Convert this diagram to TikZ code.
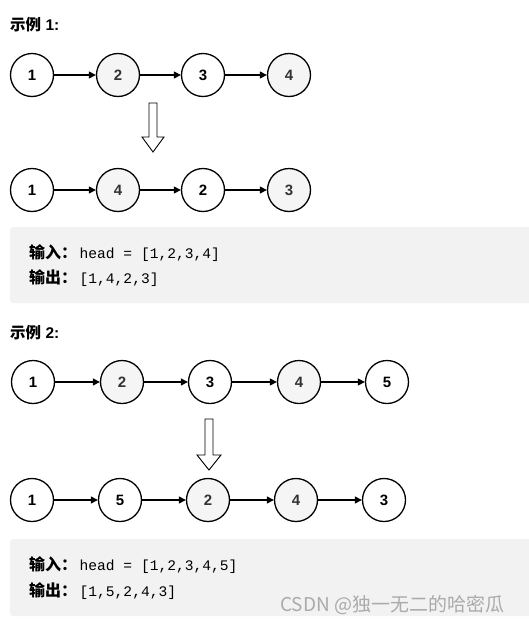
\documentclass[tikz,border=0pt]{standalone}
\usepackage{fontspec}
\setmainfont{Liberation Sans}
\setmonofont{Liberation Mono}
\newfontfamily\cjk{Noto Sans CJK SC}
\usetikzlibrary{arrows.meta}
\definecolor{nodegray}{HTML}{F5F5F5}
\definecolor{boxgray}{HTML}{F2F2F2}
\definecolor{txtgray}{HTML}{333333}
\definecolor{wmgray}{HTML}{AAAAAA}
\tikzset{
  lnode/.style={circle,draw=black,line width=1.3pt,fill=white,minimum size=43pt,inner sep=0pt,
    font=\fontsize{15}{17}\selectfont\bfseries,text=black},
  gnode/.style={lnode,fill=nodegray,text=txtgray},
  link/.style={line width=1.2pt,-{Triangle[length=7pt,width=7pt]}},
  title/.style={anchor=west,inner sep=0pt,font=\fontsize{15.5}{17}\selectfont\bfseries},
  codeline/.style={anchor=west,inner sep=0pt,font=\fontsize{14.6}{17}\selectfont,text=black},
  codebox/.style={fill=boxgray,draw=none,rounded corners=3pt},
  downarrow/.style={draw=black,fill=white,line width=0.9pt,line join=miter}
}
\newcommand{\cjklab}[1]{{\cjk\bfseries\fontsize{16}{17}\selectfont #1}\hspace{2.5pt}}
\begin{document}
\begin{tikzpicture}[x=1pt,y=-1pt]
\useasboundingbox[fill=white] (0,0) rectangle (528,624);

% ---------- Example 1 ----------
\node[title] (t1) at (10,25) {{\cjk 示例} 1:};

\node[lnode] (a1) at (32,75) {1};
\node[gnode] (a2) at (118,75) {2};
\node[lnode] (a3) at (203,75) {3};
\node[gnode] (a4) at (289,75) {4};
\draw[link] (a1) -- (a2);
\draw[link] (a2) -- (a3);
\draw[link] (a3) -- (a4);

\draw[downarrow] (149,103) -- (157,103) -- (157,137) -- (164,137) -- (153,152)
  -- (142,137) -- (149,137) -- cycle;

\node[lnode] (b1) at (32,190) {1};
\node[gnode] (b2) at (118,190) {4};
\node[lnode] (b3) at (203,190) {2};
\node[gnode] (b4) at (289,190) {3};
\draw[link] (b1) -- (b2);
\draw[link] (b2) -- (b3);
\draw[link] (b3) -- (b4);

\path[codebox] (10,227) rectangle (540,303);
\node[codeline] (c1) at (29,253) {\cjklab{输入：}\texttt{head = [1,2,3,4]}};
\node[codeline] (c2) at (29,278) {\cjklab{输出：}\texttt{[1,4,2,3]}};

% ---------- Example 2 ----------
\node[title] (t2) at (10,333) {{\cjk 示例} 2:};

\node[lnode] (d1) at (33,382) {1};
\node[gnode] (d2) at (122,382) {2};
\node[lnode] (d3) at (210,382) {3};
\node[gnode] (d4) at (299,382) {4};
\node[lnode] (d5) at (387,382) {5};
\draw[link] (d1) -- (d2);
\draw[link] (d2) -- (d3);
\draw[link] (d3) -- (d4);
\draw[link] (d4) -- (d5);

\draw[downarrow] (205,419) -- (213,419) -- (213,455) -- (221,455) -- (209,470)
  -- (197,455) -- (205,455) -- cycle;

\node[lnode] (e1) at (32,500) {1};
\node[lnode] (e2) at (120,500) {5};
\node[gnode] (e3) at (208,500) {2};
\node[gnode] (e4) at (296,500) {4};
\node[lnode] (e5) at (384,500) {3};
\draw[link] (e1) -- (e2);
\draw[link] (e2) -- (e3);
\draw[link] (e3) -- (e4);
\draw[link] (e4) -- (e5);

\path[codebox] (10,539) rectangle (540,616);
\node[codeline] (f1) at (29,565) {\cjklab{输入：}\texttt{head = [1,2,3,4,5]}};
\node[codeline] (f2) at (29,591) {\cjklab{输出：}\texttt{[1,5,2,4,3]}};

\node[anchor=west,inner sep=0pt,text=wmgray,font=\cjk\fontsize{19}{21}\selectfont] (wm) at (280,605) {CSDN @独一无二的哈密瓜};
\end{tikzpicture}
\end{document}
